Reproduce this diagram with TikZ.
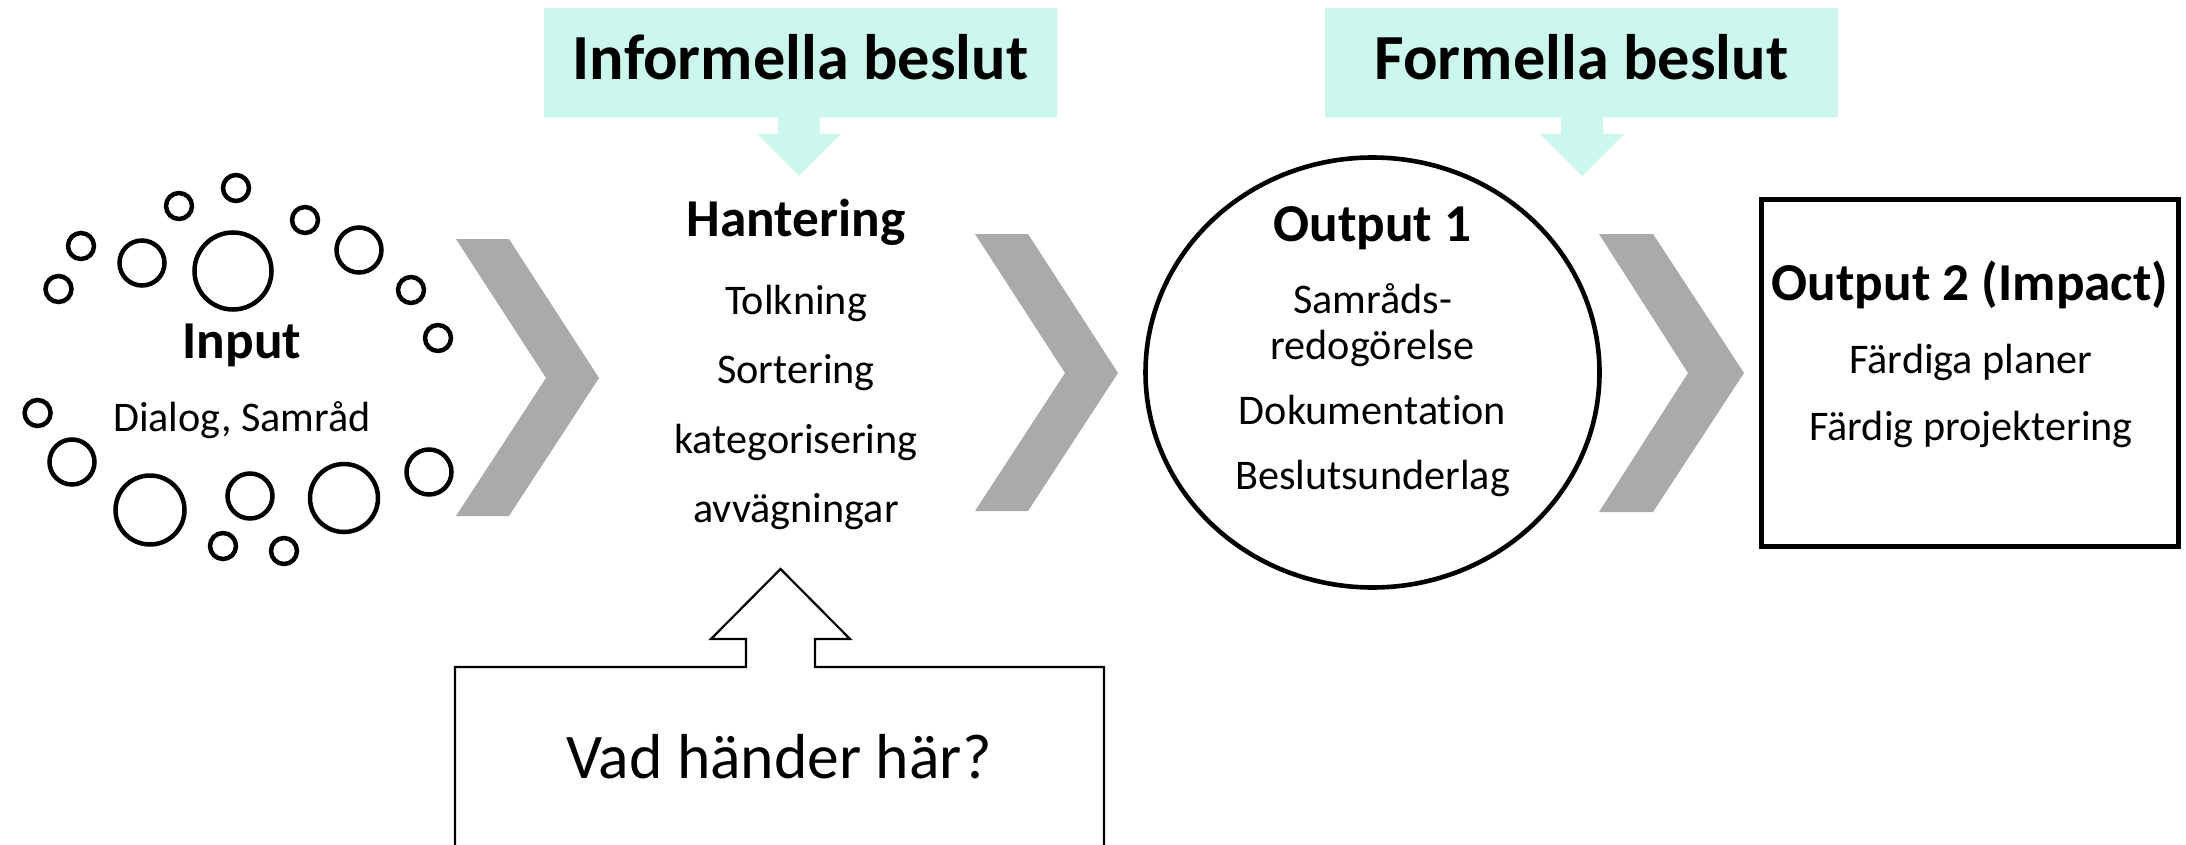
\documentclass[tikz,border=0pt]{standalone}
\usepackage{fontspec}
\setmainfont[Ligatures=NoCommon]{Carlito}
\definecolor{mint}{RGB}{204,247,237}
\definecolor{chev}{RGB}{170,170,170}
\tikzset{
  titlef/.style={font=\fontsize{64.3}{70}\selectfont\bfseries, anchor=base, inner sep=0pt},
  headf/.style={font=\fontsize{53.3}{60}\selectfont\bfseries, anchor=base, inner sep=0pt},
  bodyf/.style={font=\fontsize{42.2}{48}\selectfont, anchor=base, inner sep=0pt},
  vadf/.style={font=\fontsize{63.6}{70}\selectfont, anchor=base, inner sep=0pt},
  dotc/.style={draw=black, line width=4.5pt},
  chevf/.style={fill=chev},
  mintf/.style={fill=mint},
}
\begin{document}
\begin{tikzpicture}[x=1pt,y=-1pt]
\useasboundingbox (0,0) rectangle (2186,845);
\fill[white] (0,0) rectangle (2186,845);

% mint decision callouts
\path[mintf] (544,8) -- (1057,8) -- (1057,117.5) -- (820,117.5) -- (820,134) -- (841,134)
  -- (799,176) -- (757,134) -- (778,134) -- (778,117.5) -- (544,117.5) -- cycle;
\path[mintf] (1325,8) -- (1838,8) -- (1838,117.5) -- (1603,117.5) -- (1603,134) -- (1624,134)
  -- (1582,176) -- (1540,134) -- (1561,134) -- (1561,117.5) -- (1325,117.5) -- cycle;

% input circles
\foreach \cx/\cy/\r in {236/188/13, 179/206/13, 305/220/13, 81/246/13, 58.5/289/13,
  411/290/13, 438/338/13, 37.6/413/13, 223/546/13, 284/551/13,
  142/263/22.5, 359/250/22.5, 72/462/22.5, 250/496/22.5, 429/472/22.5,
  233/271/38.5, 150/510/34.5, 344/498/34}
  \draw[dotc] (\cx,\cy) circle[radius=\r];

% chevrons
\path[chevf] (456,239) -- (509,239) -- (599,378) -- (509,516) -- (456,516) -- (546,378) -- cycle;
\path[chevf] (975,234) -- (1028,234) -- (1118,373) -- (1028,511) -- (975,511) -- (1065,373) -- cycle;
\path[chevf] (1599,234) -- (1653,234) -- (1744,373) -- (1653,512) -- (1599,512) -- (1688,373) -- cycle;

% output 1 circle
\draw[line width=4.6pt] (1372.5,372.5) ellipse[x radius=227, y radius=215];

% output 2 box
\draw[line width=5pt] (1761.5,199.5) rectangle (2178.5,546.5);

% bottom callout
\draw[line width=2.2pt] (455,880) -- (455,667) -- (746,667) -- (746,639) -- (711,639)
  -- (780.5,569) -- (850,639) -- (815,639) -- (815,667) -- (1104,667) -- (1104,880);

% texts
\node[titlef] (inf) at (800.5,80) {Informella beslut};
\node[titlef] (form) at (1581.5,80) {Formella beslut};
\node[headf] (input) at (242,358) {Input};
\node[bodyf] (dialog) at (242,431) {Dialog, Samråd};
\node[headf] (hant) at (796,236) {Hantering};
\node[bodyf] (tolk) at (796,314) {Tolkning};
\node[bodyf] (sort) at (796,383) {Sortering};
\node[bodyf] (kat) at (796,453) {kategorisering};
\node[bodyf] (avv) at (796,522) {avvägningar};
\node[headf] (out1) at (1372.5,241) {Output 1};
\node[bodyf] (samr) at (1372.5,313) {Samråds-};
\node[bodyf] (redo) at (1372.5,359) {redogörelse};
\node[bodyf] (dok) at (1372.5,424) {Dokumentation};
\node[bodyf] (besl) at (1372.5,489) {Beslutsunderlag};
\node[headf] (out2) at (1970,300) {Output 2 (Impact)};
\node[bodyf] (fp) at (1971,373) {Färdiga planer};
\node[bodyf] (fproj) at (1971,440) {Färdig projektering};
\node[vadf] (vad) at (779,778) {Vad händer här?};
\end{tikzpicture}
\end{document}
